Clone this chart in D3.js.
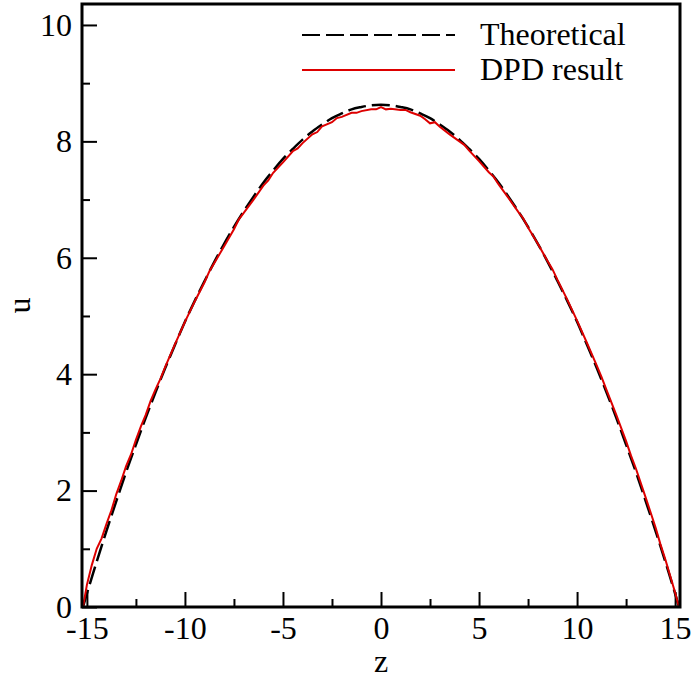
<!DOCTYPE html>
<html>
<head>
<meta charset="utf-8">
<script src="https://cdn.jsdelivr.net/npm/d3@7"></script>
<style>
  body { margin: 0; background: #fff; }
  text { font-family: "Liberation Serif", "Times New Roman", serif; }
</style>
</head>
<body>
<div id="chart"></div>
<script>
// theoretical profile
const theoZ = [-15.2, -15, -14.5, -14, -13.5, -13, -12.5, -12, -11.5, -11, -10.5, -10, -9.5, -9, -8.5, -8, -7.5, -7, -6.5, -6, -5.5, -5, -4.5, -4, -3.5, -3, -2.5, -2, -1.5, -1, -0.5,
               0, 0.5, 1, 1.5, 2, 2.5, 3, 3.5, 4, 4.5, 5, 5.5, 6, 6.5, 7, 7.5, 8, 8.5, 9, 9.5, 10, 10.5, 11, 11.5, 12, 12.5, 13, 13.5, 14, 14.5, 15, 15.2]
const theoU = [0, 0.23, 0.78, 1.31, 1.82, 2.32, 2.79, 3.25, 3.69, 4.11, 4.51, 4.90, 5.26, 5.60, 5.93, 6.24, 6.53, 6.80, 7.05, 7.29, 7.50, 7.70, 7.87, 8.03, 8.17, 8.29, 8.40, 8.48, 8.55, 8.59, 8.62,
               8.63, 8.62, 8.59, 8.55, 8.48, 8.40, 8.29, 8.17, 8.03, 7.87, 7.70, 7.50, 7.29, 7.05, 6.80, 6.53, 6.24, 5.93, 5.60, 5.26, 4.90, 4.51, 4.11, 3.69, 3.25, 2.79, 2.32, 1.82, 1.31, 0.78, 0.23, 0]

// DPD result (a bit noisy)
const dpdZ = [-15.2, -15, -14.75, -14.5, -14.25, -14, -13.75, -13.5, -13.25, -13, -12.75, -12.5, -12.25, -12, -11.75, -11.5, -11.25, -11, -10.5, -10, -9.5, -9, -8.75, -8.5, -8, -7.5, -7.25, -7, -6.5, -6, -5.75, -5.5, -5, -4.5, -4.25, -4, -3.5, -3.25, -3, -2.5, -2.25, -2, -1.5, -1.25, -1, -0.5, -0.25,
              0, 0.25, 0.5, 1, 1.25, 1.5, 2, 2.25, 2.5, 2.75, 3, 3.5, 4, 4.25, 4.5, 5, 5.5, 5.75, 6, 6.5, 7, 7.25, 7.5, 8, 8.5, 8.75, 9, 9.5, 10, 10.5, 11, 11.25, 11.5, 12, 12.5, 12.75, 13, 13.5, 14, 14.25, 14.5, 15, 15.2]
const dpdU = [0, 0.38, 0.72, 1.00, 1.18, 1.43, 1.66, 1.94, 2.17, 2.42, 2.62, 2.87, 3.10, 3.30, 3.54, 3.74, 3.92, 4.13, 4.52, 4.90, 5.25, 5.58, 5.77, 5.91, 6.20, 6.49, 6.66, 6.77, 7.00, 7.24, 7.33, 7.46, 7.64, 7.83, 7.88, 7.97, 8.12, 8.16, 8.26, 8.33, 8.40, 8.42, 8.49, 8.49, 8.52, 8.55, 8.55,
              8.59, 8.55, 8.56, 8.54, 8.54, 8.50, 8.44, 8.38, 8.31, 8.33, 8.25, 8.12, 8.00, 7.94, 7.84, 7.66, 7.47, 7.39, 7.26, 7.03, 6.79, 6.68, 6.52, 6.24, 5.94, 5.80, 5.62, 5.28, 4.92, 4.54, 4.15, 3.95, 3.73, 3.30, 2.85, 2.60, 2.38, 1.88, 1.37, 1.08, 0.82, 0.25, 0]

const xTicks = [-15, -10, -5, 0, 5, 10, 15]
const xMinor = [-12.5, -7.5, -2.5, 2.5, 7.5, 12.5]
const yTicks = [0, 2, 4, 6, 8, 10]
const yMinor = [1, 3, 5, 7, 9]
const legendNames = ["Theoretical", "DPD result"]

const W = 691, H = 681
const margin = {left: 82, top: 4, right: 11, bottom: 74}
const width = W - margin.left - margin.right
const height = H - margin.top - margin.bottom

const svg = d3.select("#chart")
    .append("svg")
    .attr("width", W)
    .attr("height", H)

const view = svg.append("g")
    .attr("transform", "translate(" + margin.left + "," + margin.top + ")")

const x = d3.scaleLinear().domain([-15.25, 15.25]).range([0, width])
const y = d3.scaleLinear().domain([0, 10.36]).range([height, 0])

// minor ticks
view.append("g")
    .attr("transform", "translate(0," + height + ")")
    .call(d3.axisBottom(x).tickValues(xMinor).tickSize(-8).tickFormat(""))
view.append("g")
    .call(d3.axisLeft(y).tickValues(yMinor).tickSize(-8).tickFormat(""))

// major ticks
view.append("g")
    .attr("transform", "translate(0," + height + ")")
    .call(d3.axisBottom(x).tickValues(xTicks).tickSize(-15).tickPadding(9).tickFormat(d => d))
view.append("g")
    .call(d3.axisLeft(y).tickValues(yTicks).tickSize(-15).tickPadding(10).tickFormat(d => d))

view.selectAll(".domain").remove()
view.selectAll(".tick line").attr("stroke", "#000").attr("stroke-width", 2)
view.selectAll(".tick text")
    .attr("fill", "#000")
    .style("font-size", "32px")
    .style("font-family", "'Liberation Serif', 'Times New Roman', serif")

// curves
const line = d3.line()
    .x(d => x(d[0]))
    .y(d => y(d[1]))

view.append("path")
    .datum(theoZ.map((z, i) => [z, theoU[i]]))
    .attr("fill", "none")
    .attr("stroke", "#000")
    .attr("stroke-width", 2.5)
    .attr("stroke-dasharray", "18,6")
    .attr("d", line.curve(d3.curveCatmullRom))

view.append("path")
    .datum(dpdZ.map((z, i) => [z, dpdU[i]]))
    .attr("fill", "none")
    .attr("stroke", "#dd0000")
    .attr("stroke-width", 2)
    .attr("d", line.curve(d3.curveLinear))

// frame
view.append("rect")
    .attr("width", width)
    .attr("height", height)
    .attr("fill", "none")
    .attr("stroke", "#000")
    .attr("stroke-width", 3)

// axis titles
svg.append("text")
    .attr("x", margin.left + x(0))
    .attr("y", 672)
    .attr("text-anchor", "middle")
    .style("font-size", "32px")
    .text("z")

svg.append("text")
    .attr("transform", "translate(30," + (margin.top + height / 2) + ") rotate(-90)")
    .attr("text-anchor", "middle")
    .style("font-size", "32px")
    .text("u")

// legend
const legend = svg.selectAll(".legend")
    .data(legendNames)
    .enter()
    .append("g")
    .attr("class", "legend")
    .attr("transform", (d, i) => "translate(302," + (35 + i * 35) + ")")

legend.append("line")
    .attr("x1", 0)
    .attr("x2", 153)
    .attr("stroke", (d, i) => i == 0 ? "#000" : "#dd0000")
    .attr("stroke-width", 2)
    .attr("stroke-dasharray", (d, i) => i == 0 ? "18,6" : null)

legend.append("text")
    .attr("x", 178)
    .attr("y", 10)
    .style("font-size", "32px")
    .text(d => d)
</script>
</body>
</html>
